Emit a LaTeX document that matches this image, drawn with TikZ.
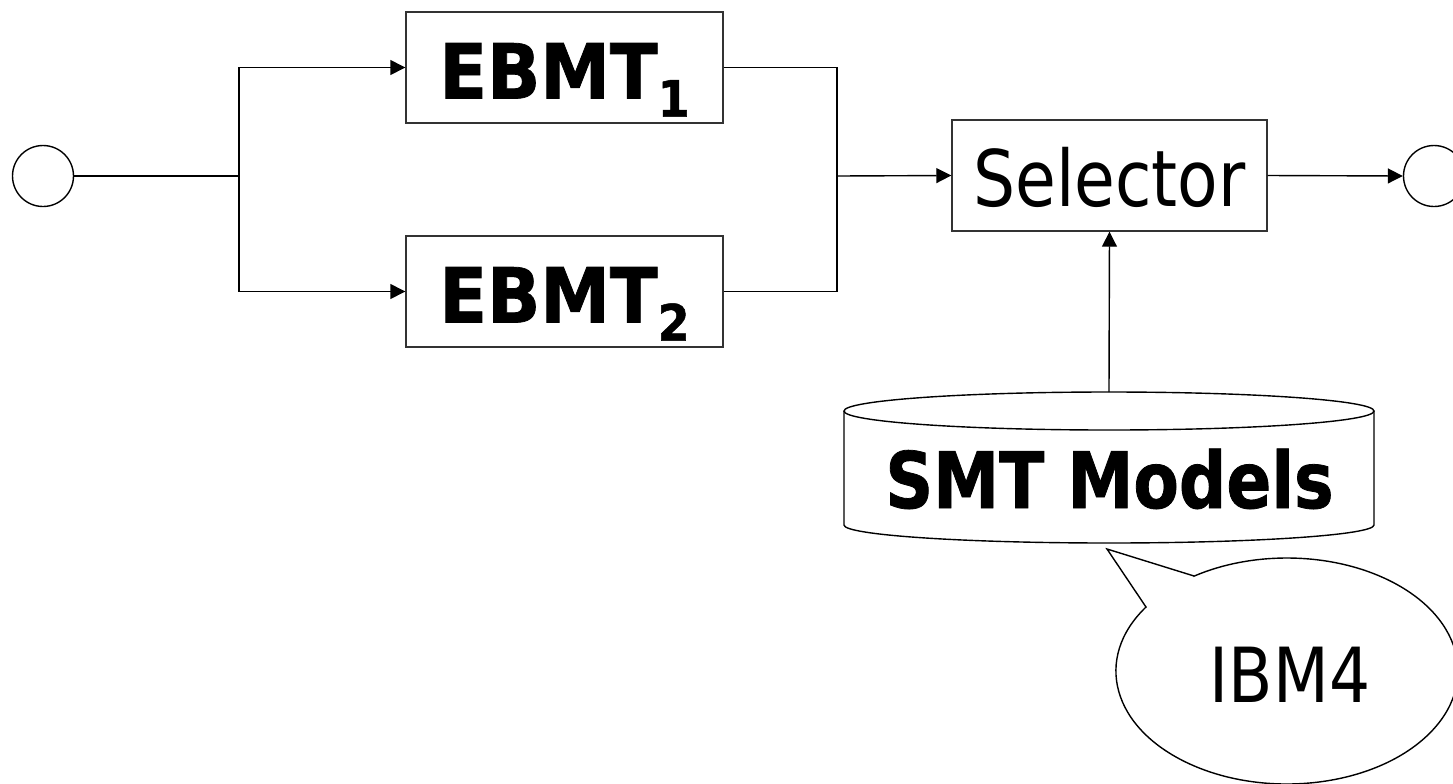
\documentclass[tikz,border=0pt]{standalone}
\usepackage{fontspec}
\setmainfont{DejaVu Sans}[FakeStretch=0.85, BoldFeatures={FakeBold=1}]
\usetikzlibrary{arrows.meta}

\newcommand{\ebmt}[1]{\textbf{\addfontfeatures{FakeStretch=0.92}EBMT\raisebox{-9pt}{\fontsize{25}{25}\selectfont #1}}}

\tikzset{
  blk/.style={draw=black!80, line width=0.7pt, fill=white, minimum width=158.5pt,
    minimum height=55.5pt, inner sep=0pt, text height=31pt, text depth=0pt},
  term/.style={draw, circle, line width=0.7pt, minimum size=30.5pt, inner sep=0pt},
  flow/.style={line width=0.7pt, -{Triangle[length=7.5pt,width=7.5pt]}},
  wire/.style={line width=0.7pt},
}

\begin{document}
\begin{tikzpicture}[x=0.5pt,y=-0.5pt]
    \useasboundingbox (0,0) rectangle (1453,783);
    %Entrada y salida
    \node[term] (in)  at (43,176)   {};
    \node[term] (out) at (1434,176) {};
    %Sistemas
    \node[blk, font=\fontsize{38}{38}\selectfont] (ebmt1) at (564.5,67.5)  {\ebmt{1}};
    \node[blk, font=\fontsize{38}{38}\selectfont] (ebmt2) at (564.5,291.5) {\ebmt{2}};
    \node[blk, minimum width=157.5pt, font=\fontsize{39}{39}\selectfont] (sel) at (1109.5,175.5) {Selector};
    \coordinate (split) at (239,176);
    \coordinate (join)  at (837,176);
    \draw[wire] (in) -- (split);
    \draw[flow] (split) |- (ebmt1.west);
    \draw[flow] (split) |- (ebmt2.west);
    \draw[wire] (ebmt1.east) -| (join);
    \draw[wire] (ebmt2.east) -| (join);
    \draw[flow] (join) -- (sel.west);
    \draw[flow] (sel.east) -- (out.west);
    %Modelos
    \draw[wire, fill=white] (844,411) -- (844,525)
        arc[start angle=180, end angle=0, x radius=265, y radius=18] -- (1374,411);
    \draw[wire] (1109,411) ellipse[x radius=265, y radius=19];
    \coordinate (smttop) at (1109,392);
    \node[anchor=base, font=\fontsize{39}{39}\selectfont\bfseries] (smt) at (1109.5,508) {SMT Models};
    \draw[flow] (smttop) -- (sel.south);
    %Globo
    \coordinate (tip) at (1107,549);
    \draw[wire] (1194,576) -- (tip) -- (1146,607)
        arc[start angle=214.5, end angle=-122.9, x radius=171, y radius=113] -- cycle;
    \node[anchor=base, font=\fontsize{38}{38}\selectfont] (ibm) at (1290,702) {IBM4};
\end{tikzpicture}
\end{document}
